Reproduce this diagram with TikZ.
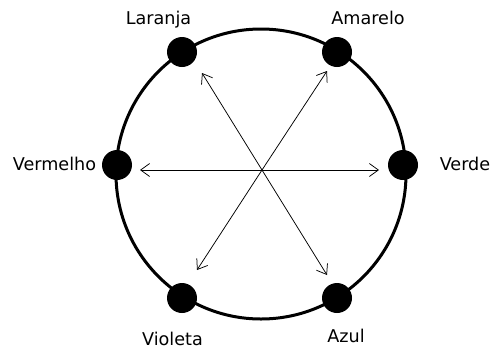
\documentclass[tikz,border=0pt]{standalone}
\usepackage{fontspec}
\setmainfont{DejaVu Sans}
\usetikzlibrary{arrows.meta}
\begin{document}
\begin{tikzpicture}[x=1pt,y=-1pt,
  dot/.style={circle,fill=black,minimum size=30pt,inner sep=0pt},
  lbl/.style={font=\fontsize{17.6}{20}\selectfont,anchor=base,inner sep=0pt},
  arr/.style={-{Straight Barb[length=9pt,width=13pt]},line width=0.75pt}]
\useasboundingbox (0,0) rectangle (493,349);
\node[draw,circle,line width=3pt,minimum size=290pt,inner sep=0pt] (ring) at (261,174) {};
\node[dot] (laranja) at (182,52) {};
\node[dot] (amarelo) at (337,52) {};
\node[dot] (vermelho) at (117,165) {};
\node[dot] (verde) at (403,165) {};
\node[dot] (violeta) at (182,298) {};
\node[dot] (azul) at (337,298) {};
\node[lbl] (tlaranja) at (158.5,24) {Laranja};
\node[lbl] (tamarelo) at (368,24) {Amarelo};
\node[lbl] (tvermelho) at (54.5,170) {Vermelho};
\node[lbl] (tverde) at (465,170) {Verde};
\node[lbl] (tvioleta) at (172.5,345) {Violeta};
\node[lbl] (tazul) at (346,342) {Azul};
\coordinate (O) at (262,170);
\coordinate (a1) at (202,73);
\coordinate (a2) at (327,71);
\coordinate (a3) at (140,170);
\coordinate (a4) at (379,170);
\coordinate (a5) at (197,270);
\coordinate (a6) at (327,275);
\foreach \t in {a1,a2,a3,a4,a5,a6} \draw[arr] (O) -- (\t);
\end{tikzpicture}
\end{document}
